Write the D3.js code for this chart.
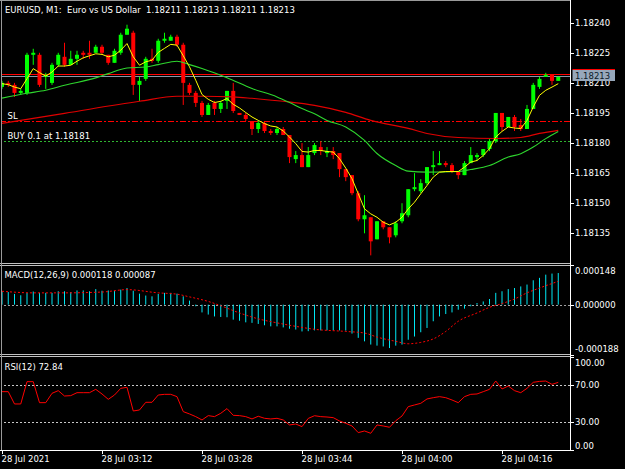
<!DOCTYPE html>
<html>
<head>
<meta charset="utf-8">
<script src="https://cdn.jsdelivr.net/npm/d3@7"></script>
<style>
  html, body { margin: 0; padding: 0; background: #000; }
  svg { display: block; }
  text { font-family: "DejaVu Sans", sans-serif; font-size: 8.5px; fill: #fff; }
</style>
</head>
<body>
<div id="chart"></div>
<script>
// ---- data (EURUSD M1, bars 02:56 .. 04:25) ----
const titleText = "EURUSD, M1:  Euro vs US Dollar  1.18211 1.18213 1.18211 1.18213";
const macdTitle = "MACD(12,26,9) 0.000118 0.000087";
const rsiTitle = "RSI(12) 72.84";

const opens = [
  1.18208,1.18210,1.18209,1.18205,1.18205,1.18224,1.18224,1.18213,1.18210,1.18219,
  1.18223,1.18219,1.18222,1.18225,1.18225,1.18225,1.18228,1.18224,1.18220,1.18225,
  1.18234,1.18235,1.18209,1.18212,1.18222,1.18221,1.18231,1.18231,1.18233,1.18229,
  1.18209,1.18205,1.18200,1.18194,1.18200,1.18197,1.18201,1.18206,1.18195,1.18194,
  1.18191,1.18187,1.18190,1.18186,1.18185,1.18187,1.18184,1.18172,1.18174,1.18168,
  1.18175,1.18178,1.18175,1.18176,1.18175,1.18167,1.18164,1.18155,1.18142,1.18143,
  1.18132,1.18141,1.18138,1.18134,1.18141,1.18144,1.18157,1.18156,1.18160,1.18168,
  1.18169,1.18170,1.18169,1.18166,1.18164,1.18170,1.18173,1.18174,1.18177,1.18181,
  1.18195,1.18188,1.18193,1.18189,1.18187,1.18197,1.18208,1.18213,1.18214,1.18211
];
const highs = [
  1.18211,1.18211,1.18210,1.18207,1.18225,1.18227,1.18225,1.18215,1.18220,1.18225,
  1.18230,1.18226,1.18226,1.18226,1.18231,1.18229,1.18229,1.18224,1.18227,1.18235,
  1.18239,1.18236,1.18213,1.18223,1.18227,1.18232,1.18235,1.18234,1.18234,1.18230,
  1.18210,1.18206,1.18201,1.18200,1.18201,1.18201,1.18206,1.18210,1.18195,1.18195,
  1.18191,1.18191,1.18191,1.18187,1.18188,1.18188,1.18184,1.18176,1.18180,1.18178,
  1.18180,1.18181,1.18178,1.18178,1.18175,1.18167,1.18164,1.18156,1.18154,1.18143,
  1.18141,1.18141,1.18138,1.18141,1.18150,1.18157,1.18165,1.18162,1.18168,1.18176,
  1.18176,1.18171,1.18170,1.18166,1.18171,1.18178,1.18175,1.18177,1.18182,1.18195,
  1.18195,1.18193,1.18194,1.18192,1.18199,1.18210,1.18213,1.18215,1.18214,1.18213
];
const lows = [
  1.18207,1.18208,1.18203,1.18204,1.18204,1.18219,1.18208,1.18207,1.18209,1.18218,
  1.18218,1.18219,1.18219,1.18222,1.18222,1.18225,1.18224,1.18219,1.18220,1.18224,
  1.18234,1.18204,1.18201,1.18211,1.18220,1.18220,1.18230,1.18231,1.18228,1.18199,
  1.18204,1.18198,1.18193,1.18194,1.18194,1.18195,1.18197,1.18195,1.18194,1.18191,
  1.18184,1.18185,1.18185,1.18184,1.18184,1.18184,1.18170,1.18170,1.18168,1.18168,
  1.18174,1.18174,1.18173,1.18172,1.18163,1.18161,1.18154,1.18141,1.18135,1.18124,
  1.18132,1.18137,1.18130,1.18133,1.18140,1.18143,1.18156,1.18155,1.18159,1.18164,
  1.18169,1.18168,1.18165,1.18162,1.18164,1.18170,1.18171,1.18173,1.18176,1.18180,
  1.18186,1.18188,1.18186,1.18186,1.18187,1.18197,1.18207,1.18213,1.18209,1.18211
];
const closes = [
  1.18210,1.18209,1.18205,1.18206,1.18224,1.18225,1.18209,1.18214,1.18219,1.18224,
  1.18219,1.18222,1.18224,1.18224,1.18224,1.18228,1.18225,1.18220,1.18226,1.18234,
  1.18237,1.18209,1.18211,1.18222,1.18221,1.18231,1.18232,1.18233,1.18229,1.18210,
  1.18205,1.18200,1.18194,1.18199,1.18197,1.18200,1.18206,1.18196,1.18194,1.18192,
  1.18187,1.18190,1.18186,1.18185,1.18187,1.18184,1.18173,1.18174,1.18168,1.18174,
  1.18179,1.18176,1.18176,1.18174,1.18167,1.18163,1.18155,1.18142,1.18144,1.18131,
  1.18141,1.18138,1.18133,1.18140,1.18145,1.18157,1.18158,1.18160,1.18168,1.18169,
  1.18170,1.18169,1.18166,1.18164,1.18170,1.18174,1.18174,1.18177,1.18181,1.18195,
  1.18188,1.18193,1.18188,1.18187,1.18197,1.18209,1.18212,1.18214,1.18211,1.18213
];

// fast MA (yellow), one value per bar
const maFast = [
  1.182096,1.182091,1.182079,1.182071,1.182121,1.182171,1.182151,1.182134,1.182154,1.182184,
  1.182184,1.182188,1.182208,1.182225,1.182235,1.182245,1.182242,1.182230,1.182238,1.182263,
  1.182296,1.182230,1.182188,1.182205,1.182213,1.182252,1.182272,1.182292,1.182288,1.182235,
  1.182180,1.182113,1.182042,1.182018,1.182002,1.182008,1.182022,1.181993,1.181975,1.181952,
  1.181930,1.181913,1.181897,1.181885,1.181880,1.181860,1.181830,1.181797,1.181758,1.181755,
  1.181763,1.181763,1.181758,1.181755,1.181722,1.181675,1.181622,1.181547,1.181472,1.181447,
  1.181430,1.181405,1.181392,1.181405,1.181430,1.181472,1.181505,1.181547,1.181588,1.181630,
  1.181655,1.181658,1.181658,1.181658,1.181680,1.181705,1.181713,1.181738,1.181772,1.181830,
  1.181858,1.181880,1.181875,1.181872,1.181913,1.181980,1.182038,1.182063,1.182079,1.182096
];
// medium MA (green), read at these bars
const maMidBars = [0,4,7,10,15,17,20,23,25,28,30,32,36,40,44,46,48,50,52,55,58,60,63,65,68,73,75,78,81,83,85,87,89];
const maMid = [
  1.182024,1.182048,1.182063,1.182088,1.182125,1.182146,1.182174,1.182179,1.182191,1.182208,
  1.182191,1.182172,1.182126,1.182072,1.182030,1.182002,1.181972,1.181946,1.181913,1.181880,
  1.181813,1.181748,1.181688,1.181660,1.181655,1.181658,1.181668,1.181688,1.181730,1.181747,
  1.181780,1.181822,1.181858
];
// slow MA (red), read at these bars
const maSlowBars = [0,10,22,28,32,37,40,45,50,55,59,65,68,73,79,83,86,89];
const maSlow = [
  1.181898,1.181948,1.182008,1.182033,1.182033,1.182030,1.182023,1.182008,1.181988,1.181953,
  1.181913,1.181873,1.181848,1.181828,1.181823,1.181828,1.181848,1.181863
];

const bidPrice = 1.18213, askPrice = 1.18214;
const slPrice = 1.18191, buyPrice = 1.18181;
const priceTicks = [1.18135, 1.18150, 1.18165, 1.18180, 1.18195, 1.18210, 1.18225, 1.18240];

// MACD main (histogram), one per bar
const macdMain = [
  0.000050,0.000047,0.000040,0.000035,0.000044,0.000049,0.000044,0.000044,0.000044,0.000050,
  0.000050,0.000047,0.000053,0.000053,0.000050,0.000058,0.000052,0.000053,0.000052,0.000056,
  0.000062,0.000052,0.000041,0.000034,0.000031,0.000040,0.000044,0.000044,0.000041,0.000031,
  0.000015,-0.000006,-0.000029,-0.000037,-0.000044,-0.000046,-0.000047,-0.000056,-0.000060,-0.000066,
  -0.000068,-0.000072,-0.000077,-0.000081,-0.000081,-0.000085,-0.000090,-0.000093,-0.000100,-0.000099,
  -0.000096,-0.000096,-0.000096,-0.000096,-0.000096,-0.000097,-0.000108,-0.000124,-0.000137,-0.000149,
  -0.000153,-0.000156,-0.000162,-0.000153,-0.000149,-0.000131,-0.000119,-0.000103,-0.000087,-0.000062,
  -0.000044,-0.000035,-0.000029,-0.000019,-0.000015,-0.000006,0.000006,0.000012,0.000021,0.000044,
  0.000050,0.000058,0.000062,0.000068,0.000075,0.000091,0.000100,0.000112,0.000116,0.000118
];
const signalBars = [0,5,10,16,20,25,28,30,33,35,38,41,44,47,50,55,58,60,63,65,67,69,71,73,76,78,80,82,84,86,89];
const macdSignal = [
  0.000050,0.000044,0.000044,0.000047,0.000056,0.000044,0.000039,0.000029,0.000012,-0.000004,
  -0.000031,-0.000053,-0.000068,-0.000081,-0.000092,-0.000100,-0.000106,-0.000121,-0.000137,-0.000146,
  -0.000141,-0.000128,-0.000100,-0.000062,-0.000031,-0.000010,0.000004,0.000021,0.000044,0.000062,
  0.000087
];
const macdTicks = [0.000148, 0, -0.000188];

const rsi = [
  62.8,62.8,49.5,49.5,73.6,73.6,50.9,50.9,61.0,63.9,
  58.1,58.5,61.7,61.7,61.7,65.3,60.3,54.5,59.2,66.4,
  67.5,41.9,43.0,51.3,51.3,59.2,59.9,59.9,57.4,41.2,
  38.7,35.8,32.2,36.9,35.8,39.4,44.5,37.2,36.9,35.8,
  33.3,36.2,34.0,33.3,34.0,32.2,26.8,27.8,25.0,33.9,
  36.8,35.8,35.4,34.7,31.1,28.6,25.7,18.5,20.3,17.8,
  26.8,25.7,24.3,31.4,36.5,46.6,48.4,50.2,54.9,56.3,
  57.4,56.3,53.8,50.9,57.4,59.9,60.3,62.8,65.3,74.3,
  65.7,68.9,63.9,61.7,66.4,72.9,73.9,74.3,70.7,72.84
];
const rsiLevels = [70, 30];
const rsiTicks = [100, 70, 30, 0];

const timeTickBars = [0, 16, 32, 48, 64, 80];
const timeTickLabels = ["28 Jul 2021", "28 Jul 03:12", "28 Jul 03:28", "28 Jul 03:44", "28 Jul 04:00", "28 Jul 04:16"];

// ---- layout ----
const W = 625, H = 469;
const axisX = 570.5;
const mainBox = { top: 1, bottom: 262 };
const macdBox = { top: 265, bottom: 355 };
const rsiBox = { top: 357, bottom: 450 };

const bull = "#00ff00", bear = "#ff0000";

const x = d3.scaleLinear().domain([0, 89]).range([2, 558.25]);
const yMain = d3.scaleLinear().domain([1.18135, 1.18240]).range([233.3, 22.7]);
const yMacd = d3.scaleLinear().domain([-0.000188, 0.000148]).range([macdBox.bottom, macdBox.top]);
const yRsi = d3.scaleLinear().domain([0, 100]).range([449.75, 357.25]);

const svg = d3.select("#chart").append("svg").attr("width", W).attr("height", H);
svg.append("rect").attr("width", W).attr("height", H).attr("fill", "#000");

const defs = svg.append("defs");
function clipFor(id, box) {
  defs.append("clipPath").attr("id", id)
    .append("rect").attr("x", 1).attr("y", box.top).attr("width", axisX - 1).attr("height", box.bottom - box.top);
  return svg.append("g").attr("clip-path", "url(#" + id + ")");
}
const gMain = clipFor("clip-main", mainBox);
const gMacd = clipFor("clip-macd", { top: 266, bottom: 354 });
const gRsi = clipFor("clip-rsi", { top: 357, bottom: 450 });

function hline(g, y, color, dash) {
  const l = g.append("line")
    .attr("x1", 0).attr("x2", axisX)
    .attr("y1", y).attr("y2", y)
    .attr("stroke", color).attr("stroke-width", 1);
  if (dash) l.attr("stroke-dasharray", dash);
  return l;
}

// ---- main window ----
hline(gMain, Math.round(yMain(slPrice)) + 0.5, "#ff0000", "6,2,2,2");
hline(gMain, Math.round(yMain(buyPrice)) + 0.5, "#2fb52f", "2,2");
hline(gMain, Math.round(yMain(askPrice)) - 0.5, "#ff0000");
hline(gMain, Math.round(yMain(bidPrice)) - 0.5, "#8a98a8");

const bars = d3.range(opens.length).map(i => ({ i: i, o: opens[i], h: highs[i], l: lows[i], c: closes[i] }));

gMain.selectAll(".wick").data(bars).join("rect")
  .attr("class", "wick")
  .attr("x", d => x(d.i) - 0.5).attr("width", 1)
  .attr("y", d => yMain(d.h))
  .attr("height", d => yMain(d.l) - yMain(d.h))
  .attr("fill", d => d.c >= d.o ? bull : bear);

gMain.selectAll(".body").data(bars).join("rect")
  .attr("class", "body")
  .attr("x", d => x(d.i) - 2).attr("width", 4)
  .attr("y", d => yMain(Math.max(d.o, d.c)))
  .attr("height", d => Math.max(1, Math.abs(yMain(d.o) - yMain(d.c))))
  .attr("fill", d => d.c >= d.o ? bull : bear);

const maLine = d3.line().x(d => x(d[0])).y(d => yMain(d[1]));
gMain.append("path")
  .datum(maSlowBars.map((b, k) => [b, maSlow[k]]))
  .attr("d", maLine.curve(d3.curveMonotoneX))
  .attr("fill", "none").attr("stroke", "#e00000").attr("stroke-width", 1.1);
gMain.append("path")
  .datum(maMidBars.map((b, k) => [b, maMid[k]]))
  .attr("d", maLine.curve(d3.curveMonotoneX))
  .attr("fill", "none").attr("stroke", "#2ed62e").attr("stroke-width", 1.1);
gMain.append("path")
  .datum(maFast.map((v, i) => [i, v]))
  .attr("d", maLine.curve(d3.curveLinear))
  .attr("fill", "none").attr("stroke", "#ffff00").attr("stroke-width", 1);

// ---- MACD window ----
hline(gMacd, Math.round(yMacd(0)) + 0.5, "#a0a0a0", "2,2");
gMacd.selectAll(".hist").data(macdMain).join("rect")
  .attr("class", "hist")
  .attr("x", (d, i) => x(i) - 0.5).attr("width", 1)
  .attr("y", d => yMacd(Math.max(0, d)))
  .attr("height", d => Math.abs(yMacd(d) - yMacd(0)))
  .attr("fill", "#00e8f4");
gMacd.append("path")
  .datum(signalBars.map((b, k) => [b, macdSignal[k]]))
  .attr("d", d3.line().x(d => x(d[0])).y(d => yMacd(d[1])).curve(d3.curveMonotoneX))
  .attr("fill", "none").attr("stroke", "#ff0000").attr("stroke-width", 1)
  .attr("stroke-dasharray", "2,2");

// ---- RSI window ----
rsiLevels.forEach(v => hline(gRsi, Math.round(yRsi(v)) + 0.5, "#c8c8c8", "2,2"));
gRsi.append("path")
  .datum(rsi)
  .attr("d", d3.line().x((d, i) => x(i)).y(d => yRsi(d)))
  .attr("fill", "none").attr("stroke", "#ff0000").attr("stroke-width", 1);

// ---- frames ----
const frame = svg.append("g").attr("shape-rendering", "crispEdges");
[[0.5, "#9a9a9a"], [263.5, "#c0c0c0"], [265.5, "#c0c0c0"], [354.5, "#c0c0c0"], [356.5, "#c0c0c0"]]
  .forEach(([y, c]) => frame.append("line").attr("x1", 0).attr("x2", axisX).attr("y1", y).attr("y2", y).attr("stroke", c));
frame.append("line").attr("x1", 1.5).attr("x2", 1.5).attr("y1", 0).attr("y2", 450).attr("stroke", "#9a9a9a");
frame.append("line").attr("x1", axisX).attr("x2", axisX).attr("y1", 0).attr("y2", 451).attr("stroke", "#ffffff");
frame.append("line").attr("x1", 0).attr("x2", axisX).attr("y1", 450.5).attr("y2", 450.5).attr("stroke", "#ffffff");

// ---- right axes ----
function axisLabels(ticks, scale, box, fmt) {
  ticks.forEach(v => {
    const y = scale(v);
    frame.append("line").attr("x1", axisX).attr("x2", axisX + 3.5)
      .attr("y1", Math.round(y) + 0.5).attr("y2", Math.round(y) + 0.5).attr("stroke", "#fff");
    const ty = Math.max(box.top + 6, Math.min(box.bottom - 6, y));
    svg.append("text").attr("x", 575).attr("y", ty).attr("dy", "0.36em").text(fmt(v));
  });
}
axisLabels(priceTicks, yMain, { top: -99, bottom: 999 }, v => v.toFixed(5));
axisLabels(macdTicks, yMacd, macdBox, v => v.toFixed(6));
axisLabels(rsiTicks, yRsi, { top: 357.25, bottom: 451.75 }, v => v.toFixed(2));

// current price tag
const tagY = Math.round(yMain(bidPrice));
svg.append("rect").attr("x", 572.5).attr("y", tagY - 7).attr("width", 42.5).attr("height", 11)
  .attr("fill", "#97a8bb");
svg.append("line").attr("x1", 572.5).attr("x2", 615).attr("y1", tagY - 7.5).attr("y2", tagY - 7.5)
  .attr("stroke", "#ff0000");
svg.append("text").attr("x", 575).attr("y", tagY - 1.5).attr("dy", "0.36em")
  .style("fill", "#0c1a28").text(bidPrice.toFixed(5));

// ---- time axis ----
timeTickBars.forEach((b, k) => {
  frame.append("line").attr("x1", Math.round(x(b)) + 0.5).attr("x2", Math.round(x(b)) + 0.5)
    .attr("y1", 450).attr("y2", 454).attr("stroke", "#fff");
  svg.append("text").attr("x", x(b) - 0.5).attr("y", 462).text(timeTickLabels[k]);
});

// ---- labels ----
svg.append("text").attr("x", 5).attr("y", 12.5).text(titleText).style("white-space", "pre");
svg.append("text").attr("x", 7.5).attr("y", 119).text("SL");
svg.append("text").attr("x", 7.5).attr("y", 139).text("BUY 0.1 at " + buyPrice.toFixed(5));
svg.append("text").attr("x", 4.5).attr("y", 277.5).text(macdTitle);
svg.append("text").attr("x", 4.5).attr("y", 369.5).text(rsiTitle);
</script>
</body>
</html>
